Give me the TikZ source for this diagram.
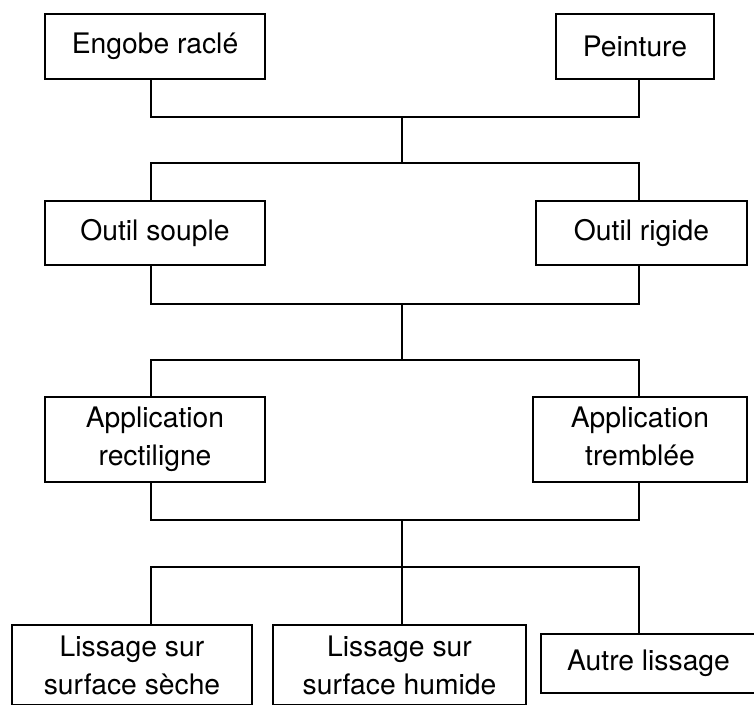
\documentclass[tikz,border=0pt]{standalone}
\usepackage{fontspec}
\setmainfont{TeX Gyre Heros}

\tikzset{every picture/.style={line width=1.2pt}}
\tikzset{box/.style={draw, rectangle, inner sep=0pt, outer sep=0pt, align=center,
    font=\fontsize{21.2}{28.5}\selectfont}}

\begin{document}
\begin{tikzpicture}[x=0.75pt,y=0.75pt,yscale=-1,xscale=1]
\useasboundingbox (0,0) rectangle (754,704);
\clip (0,0) rectangle (754,704);

% first row
\node[box, minimum width=165pt, minimum height=48.75pt] (engobe) at (155,46.5) {Engobe raclé};
\node[box, minimum width=118.5pt, minimum height=48.75pt] (peinture) at (635,46.5) {Peinture};
% second row
\node[box, minimum width=165pt, minimum height=48pt] (souple) at (155,233) {Outil souple};
\node[box, minimum width=158.25pt, minimum height=48pt] (rigide) at (641.5,233) {Outil rigide};
% third row
\node[box, minimum width=165pt, minimum height=63.75pt] (rectiligne) at (155,439.5) {Application\\rectiligne};
\node[box, minimum width=160.5pt, minimum height=63.75pt] (tremblee) at (640,439.5) {Application\\tremblée\vphantom{g}};
% last row
\node[box, minimum width=180pt, minimum height=60pt] (seche) at (132,665) {Lissage sur\\surface sèche};
\node[box, minimum width=189.75pt, minimum height=60pt] (humide) at (399.5,665) {Lissage sur\\surface humide};
\node[box, minimum width=161.25pt, minimum height=44.25pt] (autre) at (648.5,663.5) {Autre lissage};

% junction points
\coordinate (a1) at (151,117);
\coordinate (a2) at (639,117);
\coordinate (a3) at (402,117);
\coordinate (b1) at (151,163);
\coordinate (b2) at (639,163);
\coordinate (b3) at (402,163);
\coordinate (c1) at (151,304);
\coordinate (c2) at (639,304);
\coordinate (c3) at (402,304);
\coordinate (d1) at (151,360);
\coordinate (d2) at (639,360);
\coordinate (d3) at (402,360);
\coordinate (e1) at (151,520);
\coordinate (e2) at (639,520);
\coordinate (e3) at (402,520);
\coordinate (f1) at (151,567);
\coordinate (f2) at (639,567);
\coordinate (f3) at (402,567);

% connectors
\draw (engobe.south -| a1) -- (a1) -- (a2) -- (peinture.south -| a2);
\draw (a3) -- (b3);
\draw (souple.north -| b1) -- (b1) -- (b2) -- (rigide.north -| b2);
\draw (souple.south -| c1) -- (c1) -- (c2) -- (rigide.south -| c2);
\draw (c3) -- (d3);
\draw (rectiligne.north -| d1) -- (d1) -- (d2) -- (tremblee.north -| d2);
\draw (rectiligne.south -| e1) -- (e1) -- (e2) -- (tremblee.south -| e2);
\draw (e3) -- (humide.north -| f3);
\draw (seche.north -| f1) -- (f1) -- (f2) -- (autre.north -| f2);

\end{tikzpicture}
\end{document}
